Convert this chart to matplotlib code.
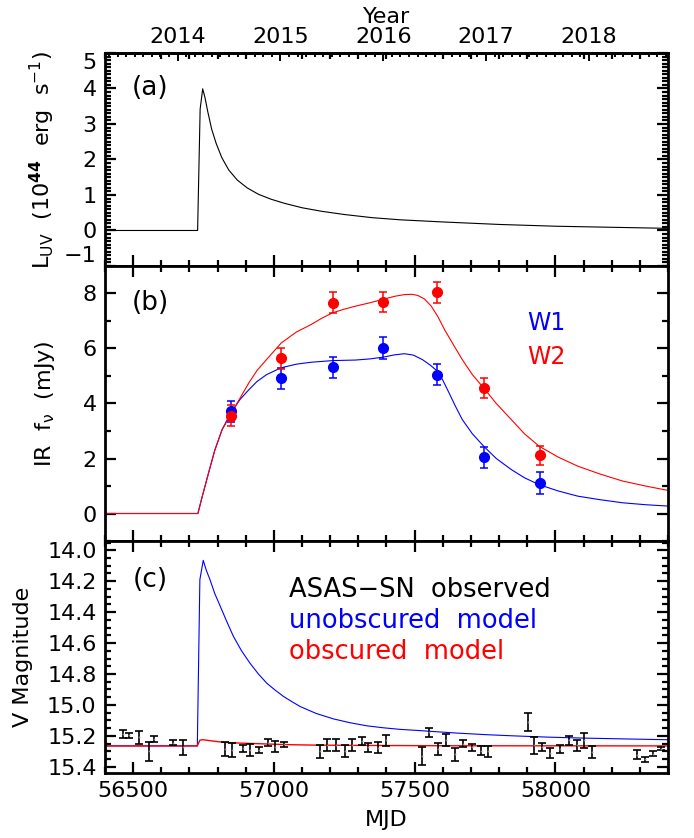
import numpy as np
import matplotlib.pyplot as plt
from matplotlib.ticker import MultipleLocator, FormatStrFormatter

plt.rcParams['font.family'] = ['DejaVu Sans']
plt.rcParams['mathtext.default'] = 'regular'

# (a) UV luminosity model, 1e44 erg/s
uv_mjd = [56400, 56729, 56738, 56747, 56755, 56765, 56779, 56795, 56815, 56840,
          56870, 56905, 56945, 56990, 57040, 57100, 57170, 57250, 57350, 57450,
          57600, 57800, 58000, 58200, 58400]
uv_lum = [0, 0, 3.42, 3.99, 3.75, 3.35, 2.85, 2.45, 2.05, 1.7,
          1.42, 1.2, 1.02, 0.88, 0.76, 0.64, 0.54, 0.45, 0.36, 0.30,
          0.24, 0.17, 0.12, 0.09, 0.06]

# (b) WISE photometry (mJy)
wise_mjd = [56848, 57027, 57211, 57387, 57580, 57748, 57944]
w1_flux = [3.72, 4.92, 5.32, 6.02, 5.04, 2.05, 1.12]
w1_err = [0.38, 0.38, 0.38, 0.40, 0.38, 0.38, 0.40]
w2_flux = [3.56, 5.65, 7.67, 7.70, 8.04, 4.56, 2.12]
w2_err = [0.37, 0.38, 0.37, 0.37, 0.37, 0.37, 0.35]

# (b) dust echo models
w1_mod_mjd = [56400, 56730, 56745, 56768, 56790, 56816, 56847, 56880, 56911, 56940,
              56974, 57026, 57080, 57132, 57209, 57290, 57340, 57385, 57430, 57464,
              57495, 57527, 57555, 57578, 57600, 57622, 57645, 57669, 57705, 57745,
              57790, 57843, 57890, 57942, 58010, 58080, 58160, 58239, 58320, 58400]
w1_mod = [0, 0, 0.6, 1.48, 2.3, 3.05, 3.66, 4.15, 4.5, 4.8,
          5.05, 5.3, 5.43, 5.5, 5.56, 5.58, 5.62, 5.68, 5.77, 5.81,
          5.76, 5.6, 5.4, 5.2, 4.85, 4.39, 3.9, 3.42, 2.9, 2.45,
          2.0, 1.6, 1.3, 1.05, 0.82, 0.63, 0.5, 0.39, 0.32, 0.27]
w2_mod_mjd = [56400, 56730, 56745, 56768, 56790, 56816, 56847, 56880, 56911, 56940,
              56974, 57026, 57080, 57132, 57170, 57209, 57250, 57290, 57340, 57385,
              57430, 57464, 57490, 57511, 57535, 57559, 57583, 57606, 57637, 57669,
              57705, 57745, 57790, 57843, 57890, 57942, 58010, 58080, 58160, 58239,
              58320, 58400]
w2_mod = [0, 0, 0.6, 1.48, 2.3, 3.05, 3.6, 4.2, 4.75, 5.2,
          5.6, 6.2, 6.6, 6.87, 7.1, 7.3, 7.43, 7.54, 7.66, 7.78,
          7.9, 7.96, 7.97, 7.93, 7.8, 7.54, 7.15, 6.69, 6.15, 5.6,
          5.05, 4.57, 4.0, 3.42, 2.9, 2.45, 2.05, 1.72, 1.43, 1.18,
          1.0, 0.84]

# (c) V band models
unobs_mjd = [56400, 56728, 56737, 56749, 56760, 56773, 56790, 56809, 56830, 56856,
             56885, 56915, 56945, 56975, 57005, 57034, 57065, 57093, 57150, 57211,
             57270, 57330, 57390, 57448, 57510, 57567, 57650, 57750, 57851, 57970,
             58088, 58250, 58400]
unobs_mag = [15.265, 15.265, 14.19, 14.065, 14.13, 14.19, 14.28, 14.36, 14.45, 14.556,
             14.65, 14.73, 14.80, 14.86, 14.905, 14.945, 14.98, 15.01, 15.055, 15.09,
             15.115, 15.135, 15.148, 15.158, 15.165, 15.172, 15.182, 15.192, 15.20, 15.208,
             15.214, 15.22, 15.225]
obs_mjd = [56400, 56728, 56737, 56748, 56780, 56823, 56880, 56934, 57000, 57053,
           57150, 57331, 57600, 58400]
obs_mag = [15.265, 15.265, 15.228, 15.225, 15.233, 15.242, 15.247, 15.25, 15.254, 15.257,
           15.26, 15.262, 15.264, 15.265]

# (c) ASAS-SN observed V
asas_mjd = [56465, 56486, 56522, 56555, 56575, 56641, 56676, 56827, 56851, 56890,
            56915, 56946, 56978, 57004, 57035, 57163, 57189, 57220, 57252, 57279,
            57312, 57335, 57369, 57399, 57527, 57552, 57584, 57611, 57644, 57671,
            57704, 57736, 57762, 57903, 57924, 57952, 57982, 58017, 58048, 58076,
            58102, 58131, 58290, 58320, 58346, 58375]
asas_mag = [15.19, 15.195, 15.21, 15.30, 15.22, 15.245, 15.275, 15.285, 15.29, 15.28,
            15.29, 15.293, 15.243, 15.27, 15.255, 15.30, 15.26, 15.26, 15.30, 15.258,
            15.233, 15.274, 15.276, 15.23, 15.33, 15.178, 15.285, 15.228, 15.32, 15.25,
            15.275, 15.295, 15.30, 15.11, 15.262, 15.274, 15.31, 15.285, 15.23, 15.262,
            15.23, 15.306, 15.322, 15.35, 15.316, 15.283]
asas_err = [0.027, 0.016, 0.04, 0.062, 0.022, 0.017, 0.046, 0.045, 0.045, 0.024,
            0.04, 0.018, 0.022, 0.035, 0.016, 0.042, 0.038, 0.038, 0.039, 0.038,
            0.025, 0.031, 0.036, 0.036, 0.058, 0.028, 0.039, 0.038, 0.042, 0.023,
            0.023, 0.029, 0.035, 0.06, 0.054, 0.027, 0.034, 0.027, 0.032, 0.035,
            0.048, 0.038, 0.028, 0.016, 0.016, 0.008]

year_ticks = [2014, 2015, 2016, 2017, 2018]
mjd_ticks = [56500, 57000, 57500, 58000]
uv_ticks = [-1, 0, 1, 2, 3, 4, 5]

FS = 16
fig = plt.figure(figsize=(6.94, 8.38), dpi=100)
L, W = 0.1513, 0.8112
ax_a = fig.add_axes([L, 0.6826, W, 0.2542])
ax_b = fig.add_axes([L, 0.3544, W, 0.3282])
ax_c = fig.add_axes([L, 0.0776, W, 0.2768])

for ax in (ax_a, ax_b, ax_c):
    ax.set_xlim(56400, 58400)
    ax.xaxis.set_major_locator(MultipleLocator(500))
    ax.xaxis.set_minor_locator(MultipleLocator(100))
    for s in ax.spines.values():
        s.set_linewidth(2)
    ax.tick_params(which='both', direction='in', top=True, right=True,
                   labelsize=FS, width=1.6)
    ax.tick_params(which='major', length=8, pad=6)
    ax.tick_params(which='minor', length=4)

# panel (a)
ax_a.plot(uv_mjd, uv_lum, color='black', lw=0.8)
ax_a.set_ylim(-1, 5)
ax_a.set_yticks(uv_ticks)
ax_a.yaxis.set_minor_locator(MultipleLocator(0.1))
ax_a.tick_params(axis='x', top=False, labelbottom=False)
ylabs = ax_a.get_yticklabels()
ylabs[0].set_va('bottom')
ylabs[-1].set_va('top')
ax_a.set_ylabel(r'L$_{\rm UV}$  (10$^{\bf 44}$  erg  s$^{-1}$)', fontsize=FS)
ax_a.text(0.08, 0.836, '(a)', transform=ax_a.transAxes, fontsize=19,
          ha='center', va='center')

mjd2yr = lambda m: 2014 + (np.asarray(m) - 56658) / 365.25
yr2mjd = lambda y: 56658 + (np.asarray(y) - 2014) * 365.25
sec = ax_a.secondary_xaxis('top', functions=(mjd2yr, yr2mjd))
sec.set_xticks(year_ticks)
sec.xaxis.set_minor_locator(MultipleLocator(1 / 12))
sec.tick_params(which='both', direction='in', labelsize=FS, width=1.4)
sec.tick_params(which='major', length=6, pad=4)
sec.tick_params(which='minor', length=3)
sec.spines['top'].set_linewidth(2)
sec.set_xlabel('Year', fontsize=FS, labelpad=3)

# panel (b)
ax_b.plot(w1_mod_mjd, w1_mod, color='blue', lw=0.8)
ax_b.plot(w2_mod_mjd, w2_mod, color='red', lw=0.8)
ax_b.errorbar(wise_mjd, w1_flux, yerr=w1_err, fmt='o', color='blue', ms=7,
              capsize=3, elinewidth=1.1, capthick=1.1)
ax_b.errorbar(wise_mjd, w2_flux, yerr=w2_err, fmt='o', color='red', ms=7,
              capsize=3, elinewidth=1.1, capthick=1.1)
ax_b.set_ylim(-1, 9)
ax_b.yaxis.set_major_locator(MultipleLocator(2))
ax_b.yaxis.set_minor_locator(MultipleLocator(1))
ax_b.tick_params(axis='x', labelbottom=False)
ax_b.set_ylabel(r'IR  f$_\nu$  (mJy)', fontsize=FS)
ax_b.text(0.08, 0.865, '(b)', transform=ax_b.transAxes, fontsize=19,
          ha='center', va='center')
ax_b.text(0.75, 0.793, 'W1', color='blue', transform=ax_b.transAxes,
          fontsize=17, va='center')
ax_b.text(0.75, 0.669, 'W2', color='red', transform=ax_b.transAxes,
          fontsize=17, va='center')

# panel (c)
ax_c.plot(unobs_mjd, unobs_mag, color='blue', lw=0.8)
ax_c.plot(obs_mjd, obs_mag, color='red', lw=1.0)
ax_c.errorbar(asas_mjd, asas_mag, yerr=asas_err, fmt='o', ms=1.3, mfc='0.55',
              mec='none', ecolor='black', elinewidth=1.2, capsize=3, capthick=1.2)
ax_c.set_ylim(15.44, 13.94)
ax_c.set_yticks(np.arange(14.0, 15.41, 0.2))
ax_c.yaxis.set_major_formatter(FormatStrFormatter('%.1f'))
ax_c.yaxis.set_minor_locator(MultipleLocator(0.05))
ax_c.set_xticks(mjd_ticks)
ax_c.set_xlabel('MJD', fontsize=FS, labelpad=6)
ax_c.set_ylabel('V Magnitude', fontsize=FS)
ax_c.text(0.08, 0.832, '(c)', transform=ax_c.transAxes, fontsize=19,
          ha='center', va='center')
ax_c.text(0.327, 0.789, 'ASAS\u2212SN  observed', color='black',
          transform=ax_c.transAxes, fontsize=18.5, va='center')
ax_c.text(0.327, 0.656, 'unobscured  model', color='blue',
          transform=ax_c.transAxes, fontsize=18.5, va='center')
ax_c.text(0.327, 0.523, 'obscured  model', color='red',
          transform=ax_c.transAxes, fontsize=18.5, va='center')

ax_a.yaxis.set_label_coords(-0.085, 0.5)
ax_b.yaxis.set_label_coords(-0.085, 0.5)
ax_c.yaxis.set_label_coords(-0.128, 0.5)

fig.savefig('out.png', dpi=100)
